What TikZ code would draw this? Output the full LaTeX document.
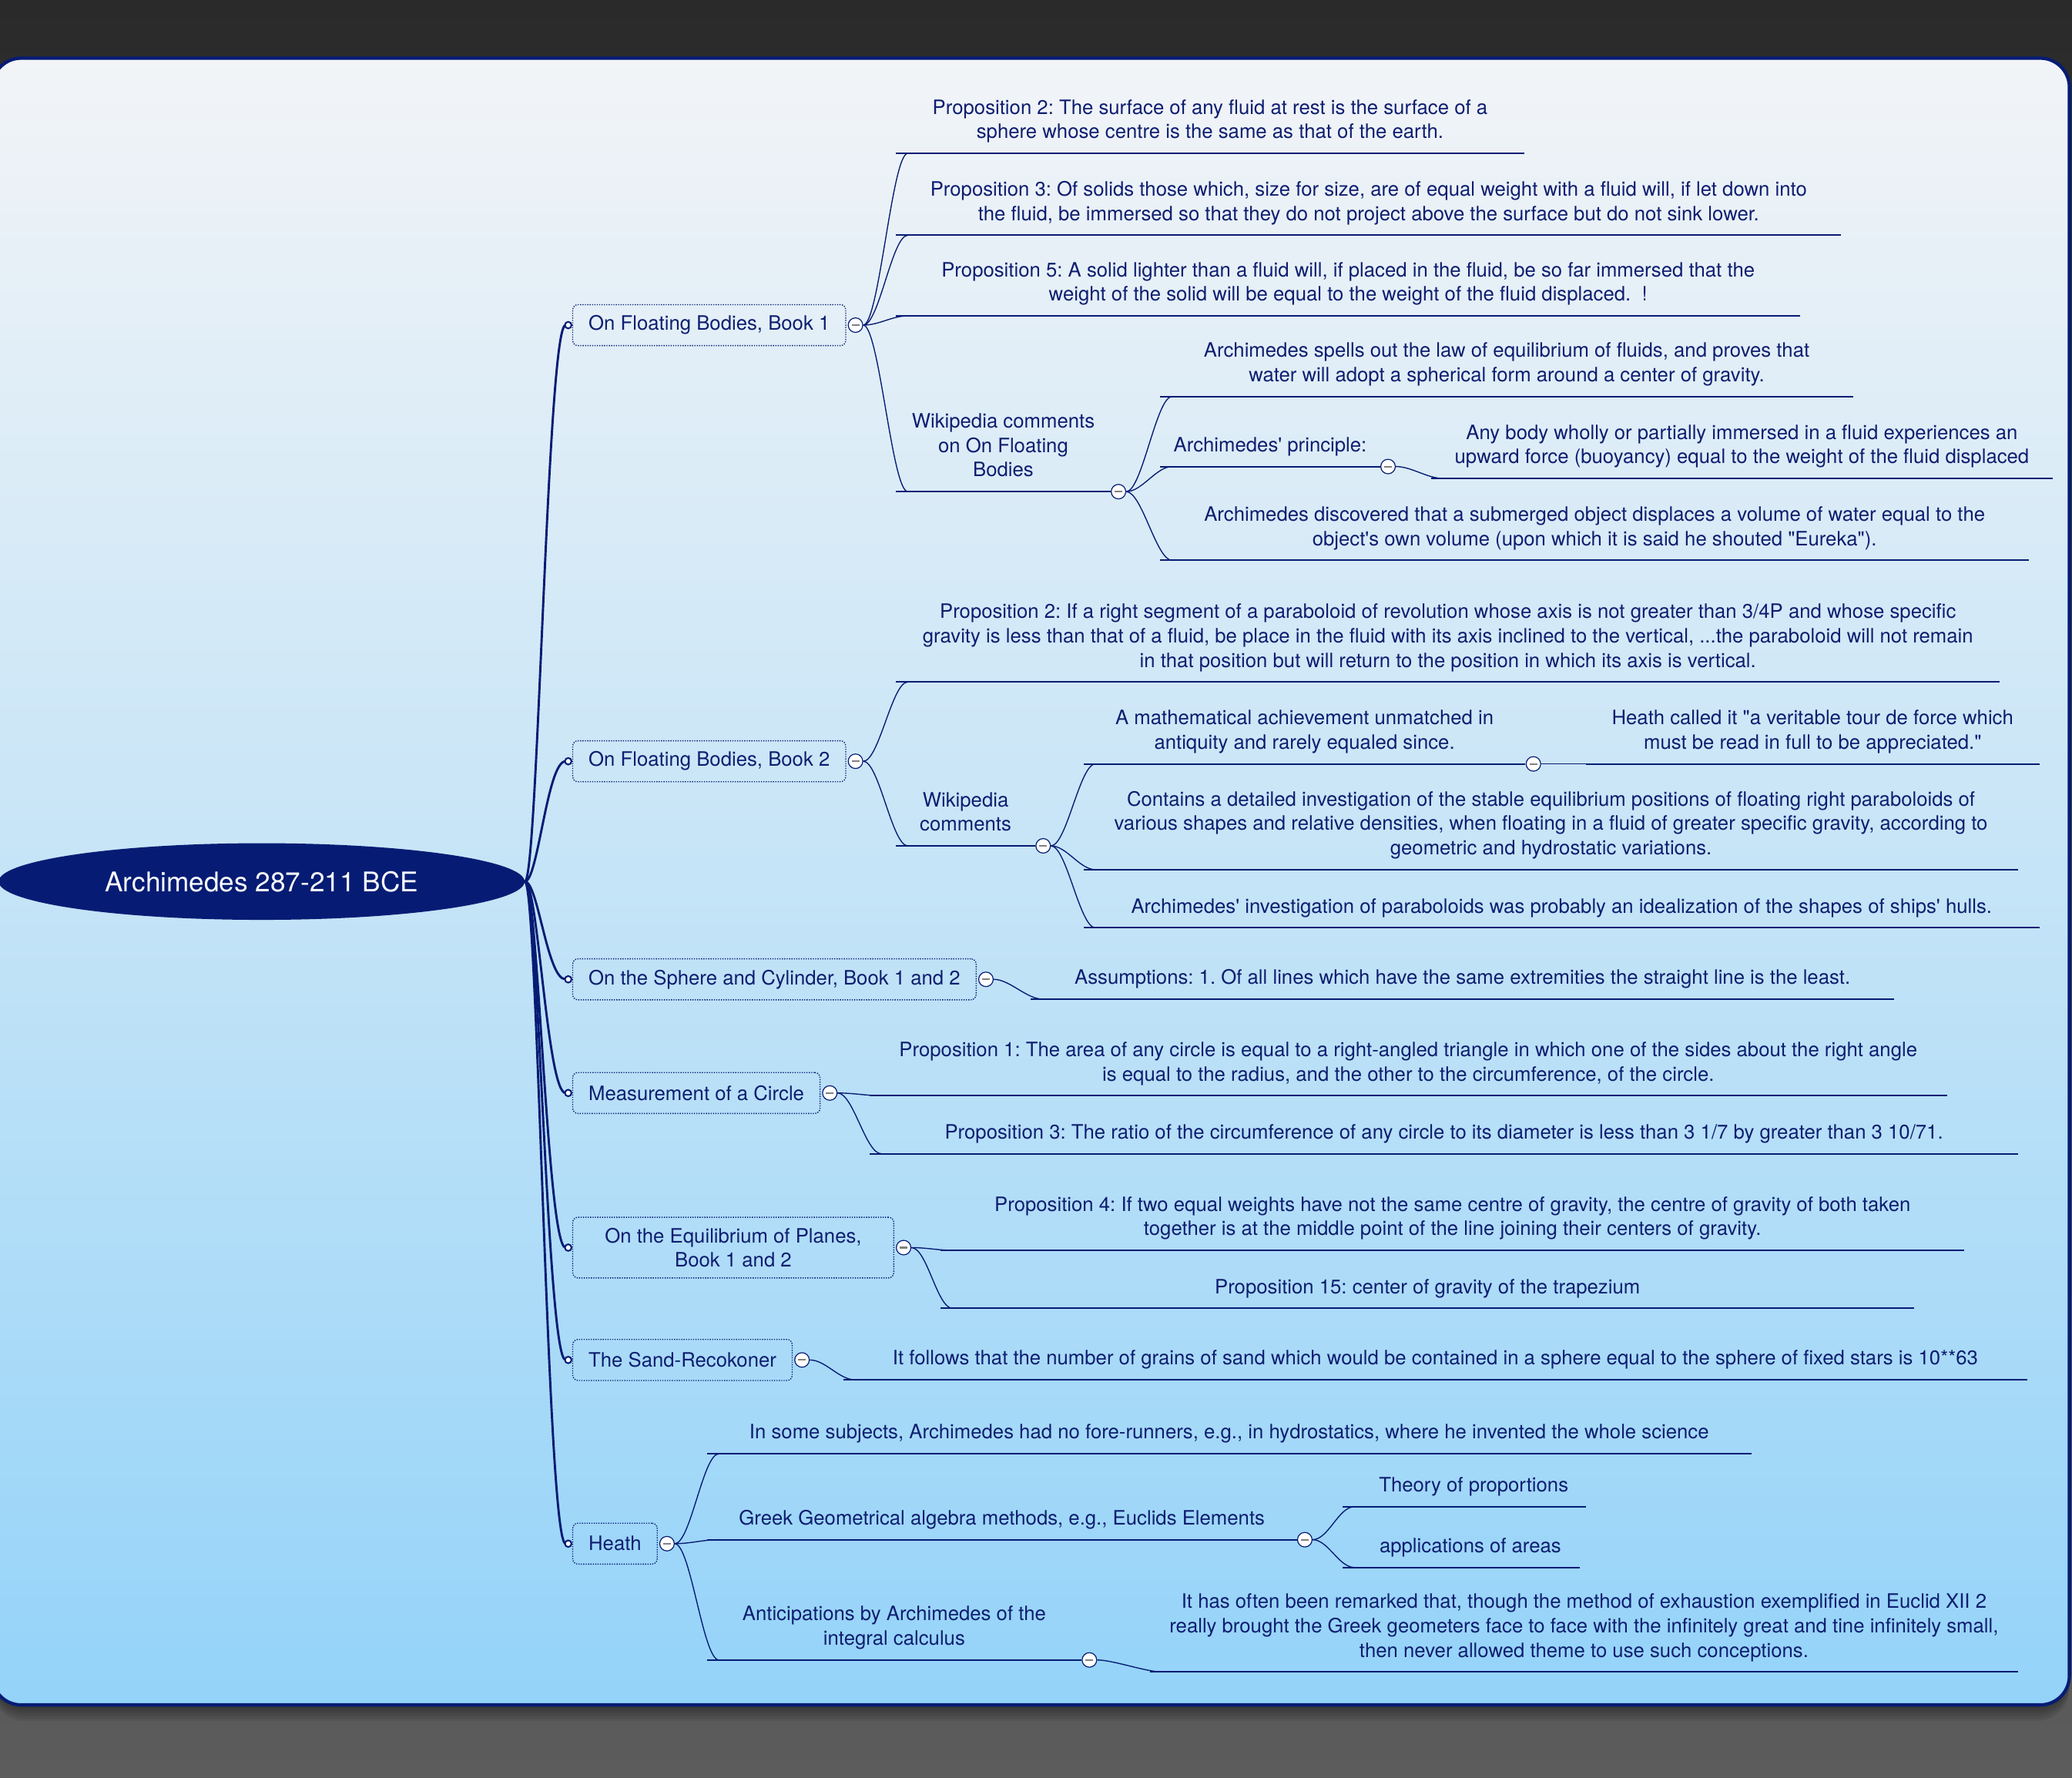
\documentclass[tikz,border=0pt]{standalone}
\usepackage{fontspec}
\setmainfont{TeX Gyre Heros}[Ligatures=TeXOff]
\usetikzlibrary{shapes.geometric}

\definecolor{navy}{RGB}{6,28,116}
\definecolor{ink}{RGB}{14,30,112}
\definecolor{bgtop}{HTML}{2A2A2A}
\definecolor{bgbot}{HTML}{5C5C5C}
\definecolor{paneltop}{HTML}{F2F4F7}
\definecolor{panelmid}{HTML}{C5E4F7}
\definecolor{panelbot}{HTML}{94D3F9}

\tikzset{
  root/.style={ellipse, fill=navy, text=white, minimum width=398pt, minimum height=58pt,
    inner sep=0pt, font=\fontsize{20.5}{24}\selectfont},
  book/.style={draw=navy, densely dotted, line width=0.8pt, rounded corners=4pt, anchor=west,
    text=ink, align=center, font=\fontsize{15}{18.5}\selectfont,
    inner xsep=12pt, inner ysep=8pt, minimum height=31pt},
  leaf/.style={anchor=south west, text=ink, align=center, font=\fontsize{15}{18.5}\selectfont,
    inner xsep=0pt, inner ysep=8pt, text depth=3pt},
  uline/.style={draw=navy, line width=1.2pt},
  twig/.style={draw=navy, line width=0.8pt},
  limb/.style={draw=navy, line width=1.7pt},
  fold/.style={circle, draw=navy, fill=white, line width=0.7pt, inner sep=0pt, minimum size=11pt,
    path picture={\draw[gray, line width=1.2pt]
      ([xshift=-3pt]path picture bounding box.center) -- ([xshift=3pt]path picture bounding box.center);}},
  knob/.style={circle, draw=navy, fill=white, line width=1.2pt, inner sep=0pt, minimum size=5pt}
}

\begin{document}
\frenchspacing
\begin{tikzpicture}[x=1pt, y=-1pt]
  \useasboundingbox (0,0) rectangle (1568,1345);
  % backdrop and panel
  \fill[top color=bgtop, bottom color=bgbot] (0,0) rectangle (1568,1345);
  \foreach \s in {2,4,...,12}
    \fill[black, opacity=0.07, rounded corners=24pt] (-6,44+\s) rectangle (1566,1290+\s);
  \draw[navy, line width=2.5pt, rounded corners=22pt, top color=paneltop, bottom color=panelbot,
    middle color=panelmid] (-6,44) rectangle (1566,1290);

  \node[root] (root) at (198,667) {Archimedes 287-211 BCE};

  % main topics
  \node[book] (fb1) at (433,246) {On Floating Bodies, Book 1};
  \node[book] (fb2) at (433,576) {On Floating Bodies, Book 2};
  \node[book] (sph) at (433,741) {On the Sphere and Cylinder, Book 1 and 2};
  \node[book] (circ) at (433,827) {Measurement of a Circle};
  \node[book, minimum width=243pt] (equi) at (433,944) {On the Equilibrium of Planes,\\Book 1 and 2};
  \node[book] (sand) at (433,1029) {The Sand-Recokoner};
  \node[book] (heath) at (433,1168) {Heath};

  \foreach \b in {fb1,fb2,sph,circ,equi,sand,heath}
    \draw[limb] (root.east) .. controls +(10,0) and +(-14,0) .. ([xshift=-5pt]\b.west);
  \foreach \b in {fb1,fb2,sph,circ,equi,sand,heath} {
    \node[knob] (\b-k) at ([xshift=-3pt]\b.west) {};
    \node[fold] (\b-f) at ([xshift=7pt]\b.east) {};
  }

  % On Floating Bodies, Book 1
  \node[leaf, minimum width=475pt] (fb1p2) at (678,116)
    {Proposition 2: The surface of any fluid at rest is the surface of a\\sphere whose centre is the same as that of the earth.};
  \node[leaf, minimum width=715pt] (fb1p3) at (678,178)
    {Proposition 3: Of solids those which, size for size, are of equal weight with a fluid will, if let down into\\the fluid, be immersed so that they do not project above the surface but do not sink lower.};
  \node[leaf, minimum width=684pt] (fb1p5) at (678,239)
    {Proposition 5: A solid lighter than a fluid will, if placed in the fluid, be so far immersed that the\\weight of the solid will be equal to the weight of the fluid displaced.\ \ !};
  \node[leaf, minimum width=162pt] (wk1) at (678,372) {Wikipedia comments\\on On Floating\\Bodies};
  \node[leaf, minimum width=524pt] (wk1a) at (878,300)
    {Archimedes spells out the law of equilibrium of fluids, and proves that\\water will adopt a spherical form around a center of gravity.};
  \node[leaf, minimum width=166pt] (wk1b) at (878,353) {Archimedes' principle:};
  \node[leaf, minimum width=470pt] (wk1b1) at (1083,362)
    {Any body wholly or partially immersed in a fluid experiences an\\upward force (buoyancy) equal to the weight of the fluid displaced};
  \node[leaf, minimum width=657pt] (wk1c) at (878,424)
    {Archimedes discovered that a submerged object displaces a volume of water equal to the\\object's own volume (upon which it is said he shouted "Eureka").};

  % On Floating Bodies, Book 2
  \node[leaf, minimum width=835pt] (fb2p2) at (678,516)
    {Proposition 2: If a right segment of a paraboloid of revolution whose axis is not greater than 3/4P and whose specific\\gravity is less than that of a fluid, be place in the fluid with its axis inclined to the vertical, ...the paraboloid will not remain\\in that position but will return to the position in which its axis is vertical.};
  \node[leaf, minimum width=105pt] (wk2) at (678,640) {Wikipedia\\comments};
  \node[leaf, minimum width=334pt] (wk2a) at (820,578)
    {A mathematical achievement unmatched in\\antiquity and rarely equaled since.};
  \node[leaf, minimum width=343pt] (wk2a1) at (1200,578)
    {Heath called it "a veritable tour de force which\\must be read in full to be appreciated."};
  \node[leaf, minimum width=707pt] (wk2b) at (820,658)
    {Contains a detailed investigation of the stable equilibrium positions of floating right paraboloids of\\various shapes and relative densities, when floating in a fluid of greater specific gravity, according to\\geometric and hydrostatic variations.};
  \node[leaf, minimum width=723pt] (wk2c) at (820,702)
    {Archimedes' investigation of paraboloids was probably an idealization of the shapes of ships' hulls.};

  % the other works
  \node[leaf, minimum width=653pt] (sph1) at (780,756)
    {Assumptions: 1. Of all lines which have the same extremities the straight line is the least.};
  \node[leaf, minimum width=815pt] (circ1) at (658,829)
    {Proposition 1: The area of any circle is equal to a right-angled triangle in which one of the sides about the right angle\\is equal to the radius, and the other to the circumference, of the circle.};
  \node[leaf, minimum width=869pt] (circ3) at (658,873)
    {Proposition 3: The ratio of the circumference of any circle to its diameter is less than 3 1/7 by greater than 3 10/71.};
  \node[leaf, minimum width=774pt] (equi4) at (712,946)
    {Proposition 4: If two equal weights have not the same centre of gravity, the centre of gravity of both taken\\together is at the middle point of the line joining their centers of gravity.};
  \node[leaf, minimum width=736pt] (equi15) at (712,990) {Proposition 15: center of gravity of the trapezium};
  \node[leaf, minimum width=896pt] (sand1) at (638,1044)
    {It follows that the number of grains of sand which would be contained in a sphere equal to the sphere of fixed stars is 10**63};

  % Heath
  \node[leaf, minimum width=790pt] (h1) at (535,1100)
    {In some subjects, Archimedes had no fore-runners, e.g., in hydrostatics, where he invented the whole science};
  \node[leaf, minimum width=446pt] (h2) at (535,1165) {Greek Geometrical algebra methods, e.g., Euclids Elements};
  \node[leaf, minimum width=184pt] (h2a) at (1016,1140) {\hspace*{14pt}Theory of proportions};
  \node[leaf, minimum width=179pt] (h2b) at (1016,1186) {\hspace*{14pt}applications of areas};
  \node[leaf, minimum width=283pt] (h3) at (535,1256) {Anticipations by Archimedes of the\\integral calculus};
  \node[leaf, minimum width=657pt] (h31) at (870,1265)
    {It has often been remarked that, though the method of exhaustion exemplified in Euclid XII 2\\really brought the Greek geometers face to face with the infinitely great and tine infinitely small,\\then never allowed theme to use such conceptions.};

  \foreach \c in {fb1p2,fb1p3,fb1p5,wk1,wk1a,wk1b,wk1b1,wk1c,fb2p2,wk2,wk2a,wk2a1,wk2b,wk2c,
                  sph1,circ1,circ3,equi4,equi15,sand1,h1,h2,h2a,h2b,h3,h31}
    \draw[uline] (\c.south west) -- (\c.south east);

  % folds at the end of sub-topics
  \foreach \p in {wk1,wk1b,wk2,wk2a,h2,h3}
    \node[fold] (\p-f) at ([xshift=6pt]\p.south east) {};

  \foreach \p/\c in {fb1/fb1p2,fb1/fb1p3,fb1/fb1p5,fb1/wk1,wk1/wk1a,wk1/wk1b,wk1b/wk1b1,wk1/wk1c,
                     fb2/fb2p2,fb2/wk2,wk2/wk2a,wk2a/wk2a1,wk2/wk2b,wk2/wk2c,
                     sph/sph1,circ/circ1,circ/circ3,equi/equi4,equi/equi15,sand/sand1,
                     heath/h1,heath/h2,h2/h2a,h2/h2b,heath/h3,h3/h31}
    \draw[twig] (\p-f.east) .. controls +(12,0) and +(-12,0) .. ([xshift=9pt]\c.south west);
\end{tikzpicture}
\end{document}
